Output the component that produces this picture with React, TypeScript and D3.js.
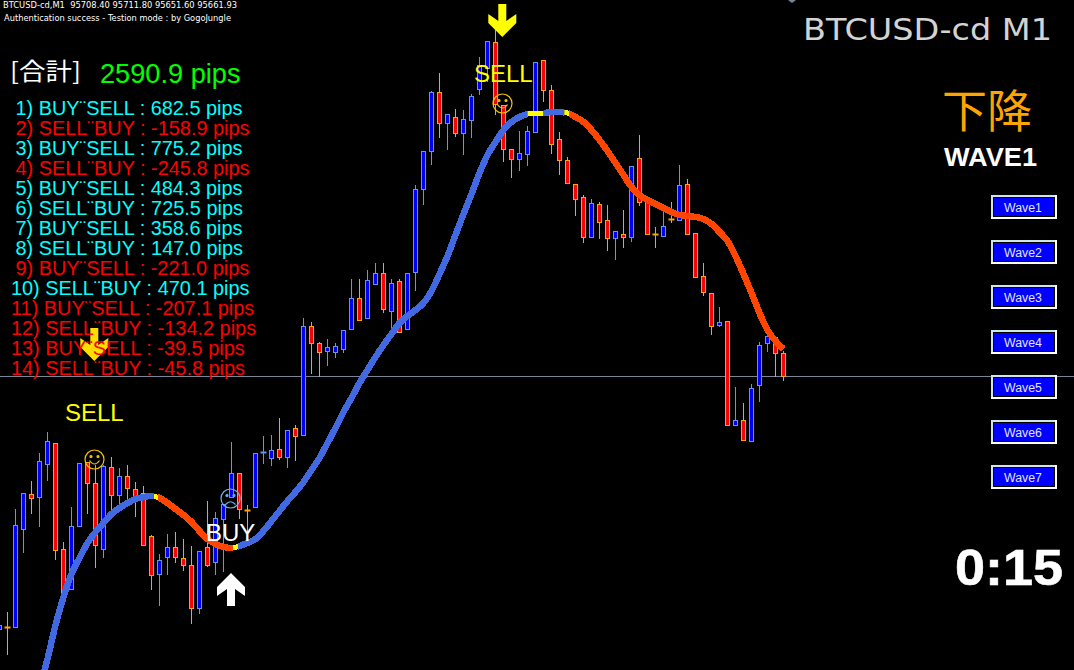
import React from "react";
import * as d3 from "d3";

const firstCandle = -1;
const highs = [95164,95190,95396,95428,95452,95508,95550,95528,95330,95400,95488,95490,95484,95484,95500,95478,95484,95450,95442,95344,95306,95346,95350,95336,95322,95312,95412,95390,95406,95530,95468,95404,95508,95542,95544,95578,95554,95564,95778,95770,95730,95736,95728,95754,95856,95856,95874,95888,95888,95856,95856,95868,96044,96112,96232,96268,96186,96196,96194,96226,96300,96332,96354,96204,96116,96152,96162,96290,96294,96244,96150,96100,96046,96024,96016,96010,96004,95952,95994,96082,96144,96018,95960,95994,96010,96084,96056,95948,95888,95828,95800,95772,95640,95608,95646,95730,95748,95740,95711.8];
const opens = [95156,95160,95160,95356,95426,95420,95486,95528,95316,95236,95362,95490,95448,95316,95480,95424,95462,95436,95428,95342,95266,95300,95320,95298,95284,95198,95320,95290,95376,95420,95468,95394,95400,95510,95498,95516,95500,95558,95544,95762,95728,95712,95710,95716,95756,95818,95778,95846,95868,95792,95852,95756,95870,96036,96112,96230,96168,96180,96148,96174,96236,96278,96330,96204,96116,96096,96106,96150,96294,96234,96136,96094,96046,96020,95940,96006,95974,95938,95946,95940,96098,96018,95946,95942,95976,95974,96046,95948,95862,95828,95764,95772,95564,95574,95532,95644,95728,95740,95708.4];
const closes = [95164,95159.5,95364,95428,95418,95492,95532,95314,95230,95362,95488,95448,95324,95482,95424,95462,95438,95418,95324,95264,95294,95320,95300,95284,95198,95312,95284,95378,95406,95468,95396,95393.5,95508,95510.5,95514,95500,95554,95542,95762,95728,95710,95720,95722,95754,95818,95774,95854,95868,95796,95848,95750,95868,96036,96112,96230,96168,96186,96148,96176,96222,96284,96332,96206,96116,96096,96108,96152,96290,96234,96126,96094,96048,96016,95940,96008,95970,95938,95952,95940,96082,96010,95946,95945.5,95962,95975.5,96044,95946,95860,95830,95762,95770,95564,95574,95534,95638,95724,95742,95708,95661.93];
const lows = [95156,95104,95160,95308,95386,95360,95452,95294,95230,95236,95362,95386,95278,95298,95392,95394,95408,95380,95324,95234,95202,95264,95288,95272,95166,95186,95280,95264,95270,95420,95376,95344,95400,95486,95482,95494,95478,95492,95544,95666,95660,95682,95698,95708,95754,95772,95778,95846,95788,95758,95748,95756,95832,96004,96084,96138,96114,96140,96104,96138,96224,96250,96184,96090,96058,96072,96082,96150,96210,96106,96064,96046,95982,95928,95938,95936,95912,95894,95918,95930,96002,95946,95918,95942,95968,95972,95946,95858,95822,95744,95760,95562,95562,95534,95530,95610,95710,95660,95651.6];

const maFirst = 4;
const maValues = [95038,95096,95164,95220,95266,95298,95328,95350,95368,95386,95398,95408,95416,95420,95422,95418,95408,95396,95384,95370,95352,95336,95326,95320,95318,95322,95328,95336,95352,95372,95392,95412,95430,95450,95474,95498,95528,95558,95590,95618,95648,95674,95700,95724,95746,95768,95782,95794,95808,95832,95866,95902,95944,95986,96026,96068,96104,96130,96154,96170,96180,96186,96188,96188,96190,96190,96188,96180,96170,96154,96134,96112,96088,96064,96040,96024,96014,96006,95998,95990,95984,95982,95980,95976,95966,95950,95932,95902,95866,95828,95788,95754,95732,95716];
const maTrend = [
  { from: 4, to: 18.3, kind: "up" },
  { from: 18.3, to: 18.8, kind: "turn" },
  { from: 18.8, to: 28.2, kind: "down" },
  { from: 28.2, to: 28.8, kind: "turn" },
  { from: 28.8, to: 65, kind: "up" },
  { from: 65, to: 67, kind: "turn" },
  { from: 67, to: 69.6, kind: "up" },
  { from: 69.6, to: 70.2, kind: "turn" },
  { from: 70.2, to: 97.2, kind: "down" },
];

const bidPrice = 95661.93;
const pipLines = [
  "1) BUY¨SELL : 682.5 pips", "2) SELL¨BUY : -158.9 pips", "3) BUY¨SELL : 775.2 pips", "4) SELL¨BUY : -245.8 pips",
  "5) BUY¨SELL : 484.3 pips", "6) SELL¨BUY : 725.5 pips", "7) BUY¨SELL : 358.6 pips", "8) SELL¨BUY : 147.0 pips",
  "9) BUY¨SELL : -221.0 pips", "10) SELL¨BUY : 470.1 pips", "11) BUY¨SELL : -207.1 pips", "12) SELL¨BUY : -134.2 pips",
  "13) BUY¨SELL : -39.5 pips", "14) SELL¨BUY : -45.8 pips",
];
const waves = ["Wave1", "Wave2", "Wave3", "Wave4", "Wave5", "Wave6", "Wave7"];

const x = d3.scaleLinear().domain([0, 97]).range([7.5, 783.5]);
const y = d3.scaleLinear().domain([96414, 95074]).range([0, 670]);
const maPts: [number, number][] = maValues.map((v, i) => [x(i + maFirst), y(v)]);
const maPath = d3.line().curve(d3.curveMonotoneX)(maPts) || "";

const SANS = "'Liberation Sans', Arial, sans-serif";
const CJK = "'Noto Sans CJK JP', sans-serif";
const BULL = "#6495ed", BEAR = "#ffa500";
const trendColor: Record<string, string> = { up: "#4169e1", down: "#ff4500", turn: "#ffff00" };

const downArrow = "-4,0 4,0 4,17 14,10 14,19 0,33 -14,19 -14,10 -4,17";
const upArrow = "-4,33 4,33 4,16 14,23 14,14 0,0 -14,14 -14,23 -4,16";

function Face({ cx, cy, color, sad }: { cx: number; cy: number; color: string; sad?: boolean }) {
  return (
    <g fill="none" stroke={color} strokeWidth={1.2}>
      <circle cx={cx} cy={cy} r={9.5} />
      <circle cx={cx - 3.5} cy={cy - 3} r={1} fill={color} />
      <circle cx={cx + 3.5} cy={cy - 3} r={1} fill={color} />
      <path d={sad
        ? `M${cx - 5},${cy + 6} Q${cx},${cy + 0.5} ${cx + 5},${cy + 6}`
        : `M${cx - 5},${cy + 1} Q${cx},${cy + 8} ${cx + 5},${cy + 1}`} />
    </g>
  );
}

export default function App() {
  return (
    <svg width={1074} height={670} style={{ position: "absolute", left: 0, top: 0, display: "block", background: "#000" }}>
      <defs>
        {maTrend.map((s, i) => (
          <clipPath id={`ma${i}`} key={i}>
            <rect x={x(s.from)} y={0} width={x(s.to) - x(s.from)} height={670} />
          </clipPath>
        ))}
      </defs>
      <rect width={1074} height={670} fill="#000" />
      <polygon points="788,0 796,0 792,3" fill="#778899" />
      <line x1={0} x2={1074} y1={Math.round(y(bidPrice)) + 0.5} y2={Math.round(y(bidPrice)) + 0.5} stroke="#778899" />

      {opens.map((o, i) => {
        const c = closes[i];
        const cx = x(i + firstCandle);
        const col = c > o ? BULL : BEAR;
        const top = Math.round(y(Math.max(o, c)));
        const h = Math.round(y(Math.min(o, c))) - top;
        return (
          <g key={i}>
            <line x1={cx} x2={cx} y1={Math.round(y(highs[i]))} y2={Math.round(y(lows[i]))} stroke={col} />
            {h === 0
              ? <line x1={cx - 3} x2={cx + 3} y1={top + 0.5} y2={top + 0.5} stroke={col} strokeWidth={2} />
              : <rect x={cx - 2} y={top + 0.5} width={4} height={h} fill={c > o ? "#0000ff" : "#ff0000"} stroke={col} shapeRendering="crispEdges" />}
          </g>
        );
      })}

      {maTrend.map((s, i) => (
        <path key={i} d={maPath} clipPath={`url(#ma${i})`} fill="none" stroke={trendColor[s.kind]}
          strokeWidth={s.kind === "turn" ? 5 : 6.5} shapeRendering="crispEdges" />
      ))}

      <polygon transform={`translate(${x(11) - 1.2},328)`} points={downArrow} fill="#ffdd00" />
      <g fontFamily={SANS} fontSize={19.9}>
        {pipLines.map((t, i) => {
          const neg = t.includes(": -");
          return (
            <text key={i} x={i < 9 ? 15.5 : 11} y={115 + 20 * i} fill={neg ? "#ff0000" : "#00ffff"}>{t}</text>
          );
        })}
      </g>

      <polygon transform={`translate(${x(62) - 1.2},4)`} points={downArrow} fill="#ffff00" />
      <polygon transform={`translate(${x(28) - 0.5},573)`} points={upArrow} fill="#ffffff" />

      <text x={65} y={421} fontFamily={SANS} fontSize={24} fill="#ffff00">SELL</text>
      <text x={474} y={82} fontFamily={SANS} fontSize={24} fill="#ffff00">SELL</text>
      <text x={206} y={541} fontFamily={SANS} fontSize={24} fill="#ffffff">BUY</text>
      <Face cx={94.5} cy={459.5} color="#f5c400" />
      <Face cx={502.5} cy={103.5} color="#f5c400" />
      <Face cx={230.5} cy={498.5} color="#6cb4ee" sad />

      <text x={3} y={8} fontFamily="'DejaVu Sans', sans-serif" fontSize={8.5} fill="#fff" textLength={234} lengthAdjust="spacingAndGlyphs" xmlSpace="preserve">BTCUSD-cd,M1  95708.40 95711.80 95651.60 95661.93</text>
      <text x={4} y={21} fontFamily="'DejaVu Sans', sans-serif" fontSize={8.5} fill="#fff" textLength={227} lengthAdjust="spacingAndGlyphs">Authentication success - Testion mode : by GogoJungle</text>
      <text x={10} y={80} fontFamily={CJK} fontSize={24} fill="#fff" textLength={71} lengthAdjust="spacingAndGlyphs">[合計]</text>
      <text x={100} y={83} fontFamily={SANS} fontSize={27.2} fill="#00ff00">2590.9 pips</text>

      <text x={803} y={40} fontFamily="'DejaVu Sans', sans-serif" fontSize={31} fill="#d3d3d3" textLength={249} lengthAdjust="spacingAndGlyphs">BTCUSD-cd M1</text>
      <text x={942} y={128} fontFamily={CJK} fontSize={45} fill="#ffa500">下降</text>
      <text x={944} y={166} fontFamily={SANS} fontWeight="bold" fontSize={25} fill="#fff" textLength={93} lengthAdjust="spacingAndGlyphs">WAVE1</text>
      <text x={955} y={585} fontFamily={SANS} fontWeight="bold" fontSize={50} fill="#fff" stroke="#fff" strokeWidth={0.6} textLength={108} lengthAdjust="spacingAndGlyphs">0:15</text>

      {waves.map((w, i) => {
        const top = 195 + 45 * i;
        return (
          <g key={w} shapeRendering="crispEdges">
            <rect x={991} y={top} width={66} height={24} fill="#fff" />
            <rect x={991} y={top} width={64} height={22} fill="#cfe6e6" />
            <rect x={993} y={top + 2} width={62} height={20} fill="#000" />
            <rect x={994} y={top + 3} width={60} height={18} fill="#0000ff" />
            <text x={1023} y={top + 17} textAnchor="middle" fontFamily={SANS} fontSize={12.3} fill="#e4e4ff" shapeRendering="auto">{w}</text>
          </g>
        );
      })}
    </svg>
  );
}
